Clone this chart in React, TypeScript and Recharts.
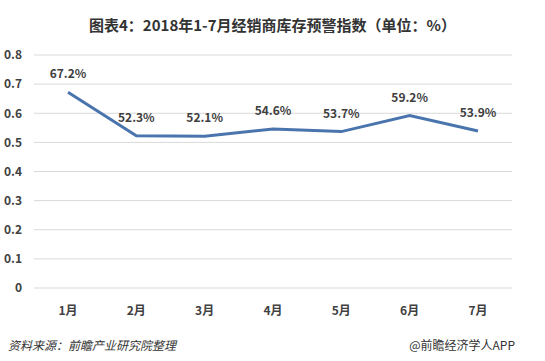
import React from 'react';
import { LineChart, Line, XAxis, YAxis, CartesianGrid, LabelList } from 'recharts';

const months = ['1月', '2月', '3月', '4月', '5月', '6月', '7月'];
const warningIndex = [0.672, 0.523, 0.521, 0.546, 0.537, 0.592, 0.539];
const yTicks = [0, 0.1, 0.2, 0.3, 0.4, 0.5, 0.6, 0.7, 0.8];

const data = months.map((m, i) => ({ month: m, value: warningIndex[i] }));

const FONT = '"Microsoft YaHei", "Noto Sans CJK SC", "Noto Sans", sans-serif';

export default function App() {
  return (
    <div style={{ position: 'absolute', left: 0, top: 0, width: 545, height: 361, background: '#fff', fontFamily: FONT }}>
      <div style={{ position: 'absolute', top: 14, left: 0, width: 545, textAlign: 'center', fontSize: 15, fontWeight: 'bold', color: '#333' }}>
        图表4：2018年1-7月经销商库存预警指数（单位：%）
      </div>
      <LineChart width={545} height={361} data={data} margin={{ top: 55, right: 33, bottom: 43, left: 0 }}>
        <CartesianGrid vertical={false} stroke="#d9d9d9" />
        <XAxis dataKey="month" axisLine={false} tickLine={false} tickMargin={12} height={30}
          padding={{ left: 34, right: 34 }}
          tick={{ fill: '#404040', fontSize: 12, fontWeight: 'bold', fontFamily: FONT }} />
        <YAxis domain={[0, 0.8]} ticks={yTicks} axisLine={false} tickLine={false} width={34} tickSize={0} tickMargin={12}
          tick={{ fill: '#404040', fontSize: 12, fontWeight: 'bold', fontFamily: FONT }} />
        <Line type="linear" dataKey="value" stroke="#4a74ad" strokeWidth={3} dot={false} isAnimationActive={false}>
          <LabelList dataKey="value" position="top" offset={14}
            formatter={(v: number) => (v * 100).toFixed(1) + '%'}
            style={{ fill: '#404040', fontSize: 12, fontWeight: 'bold', fontFamily: FONT }} />
        </Line>
      </LineChart>
      <div style={{ position: 'absolute', top: 336, left: 8, fontSize: 12, fontStyle: 'italic', color: '#333' }}>
        资料来源：前瞻产业研究院整理
      </div>
      <div style={{ position: 'absolute', top: 336, right: 30, fontSize: 12, color: '#333' }}>
        @前瞻经济学人APP
      </div>
    </div>
  );
}
